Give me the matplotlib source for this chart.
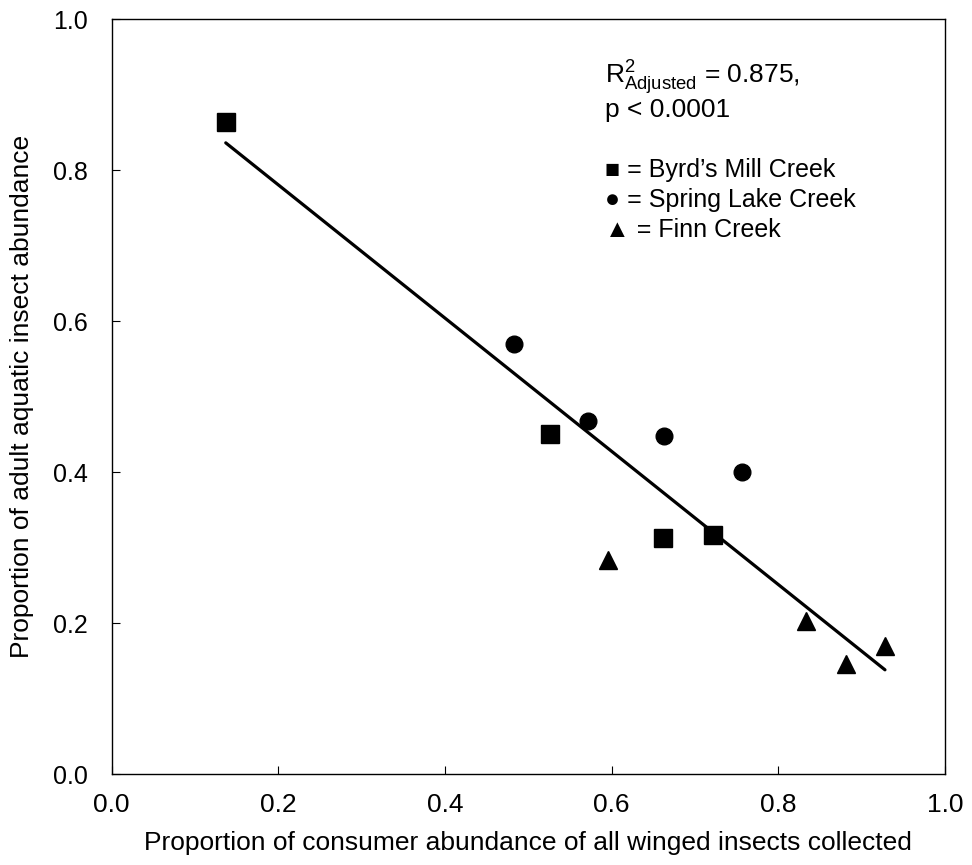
import matplotlib
matplotlib.use('Agg')
import matplotlib.pyplot as plt

plt.rcParams['font.family'] = ['Liberation Sans', 'DejaVu Sans']
plt.rcParams['mathtext.fontset'] = 'custom'
plt.rcParams['mathtext.rm'] = 'Liberation Sans'
plt.rcParams['mathtext.it'] = 'Liberation Sans:italic'

# data
byrd_x = [0.137, 0.526, 0.662, 0.722]
byrd_y = [0.864, 0.451, 0.313, 0.317]
spring_x = [0.483, 0.572, 0.663, 0.756]
spring_y = [0.570, 0.467, 0.448, 0.400]
finn_x = [0.596, 0.833, 0.881, 0.928]
finn_y = [0.284, 0.202, 0.146, 0.169]
fit_x = [0.137, 0.928]
fit_y = [0.836, 0.138]

xticks = [0.0, 0.2, 0.4, 0.6, 0.8, 1.0]
yticks = [0.0, 0.2, 0.4, 0.6, 0.8, 1.0]

fig = plt.figure(figsize=(9.72, 8.65), dpi=100)
ax = fig.add_axes([0.1148, 0.1052, 0.8574, 0.8728])

ax.plot(fit_x, fit_y, color='black', lw=2.3, solid_capstyle='round', zorder=2)
ax.plot(byrd_x, byrd_y, 's', color='black', ms=12.5, zorder=3)
ax.plot(spring_x, spring_y, 'o', color='black', ms=12, zorder=3)
ax.plot(finn_x, finn_y, '^', color='black', ms=13, zorder=3)

ax.set_xlim(0, 1)
ax.set_ylim(0, 1)
ax.set_xticks(xticks)
ax.set_yticks(yticks)
ax.set_xticklabels(['%.1f' % v for v in xticks], fontsize=19)
ax.set_yticklabels(['%.1f' % v for v in yticks], fontsize=18)
ax.tick_params(axis='x', direction='in', length=6, width=0.8, pad=14, top=False)
ax.tick_params(axis='y', direction='in', length=6, width=0.8, pad=17, right=False)
for s in ax.spines.values():
    s.set_linewidth(1.0)

ax.set_xlabel('Proportion of consumer abundance of all winged insects collected',
              fontsize=19, labelpad=10)
ax.set_ylabel('Proportion of adult aquatic insect abundance',
              fontsize=19, labelpad=14)

# annotation block, baselines
tx = 0.592
ax.text(tx, 0.915, r'R$^{2}_{\mathregular{Adjusted}}$ = 0.875,', transform=ax.transAxes,
        fontsize=19, va='baseline', ha='left')
ax.text(tx, 0.870, 'p < 0.0001', transform=ax.transAxes,
        fontsize=19, va='baseline', ha='left')
ax.text(tx, 0.791, '\u25A0 = Byrd\u2019s Mill Creek', transform=ax.transAxes,
        fontsize=18, va='baseline', ha='left')
ax.text(tx, 0.751, '\u25CF = Spring Lake Creek', transform=ax.transAxes,
        fontsize=18, va='baseline', ha='left')
ax.text(tx, 0.711, '\u25B2 = Finn Creek', transform=ax.transAxes,
        fontsize=18, va='baseline', ha='left')

fig.savefig('out.png', dpi=100)
